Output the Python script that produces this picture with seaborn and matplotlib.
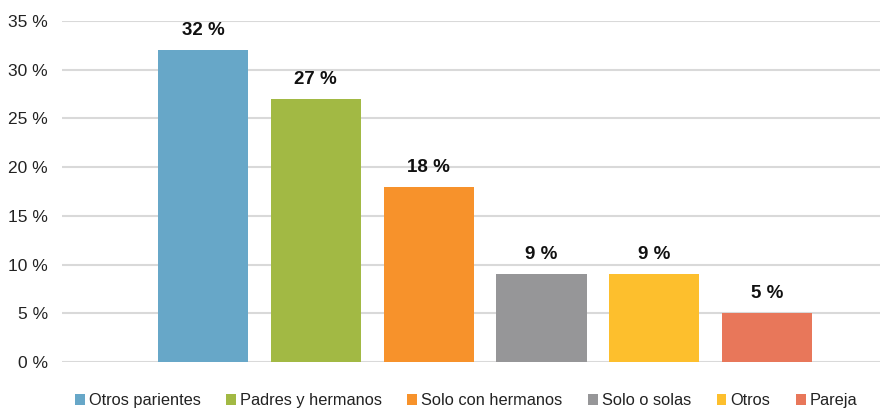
import matplotlib
matplotlib.use("Agg")
import matplotlib.pyplot as plt
import seaborn as sns
import pandas as pd

# Data
categories = ["Otros parientes", "Padres y hermanos", "Solo con hermanos",
              "Solo o solas", "Otros", "Pareja"]
values = [32, 27, 18, 9, 9, 5]
colors = ["#67A7C8", "#A2B944", "#F7922B", "#969698", "#FDBF2D", "#E8775A"]
y_ticks = [0, 5, 10, 15, 20, 25, 30, 35]

df = pd.DataFrame({"grupo": categories, "pct": values})

sns.set_style("white")
plt.rcParams["font.family"] = ["Liberation Sans", "DejaVu Sans"]

fig = plt.figure(figsize=(8.81, 4.08), dpi=100)
ax = fig.add_axes([62 / 881, 46 / 408, 818 / 881, 341 / 408])

sns.barplot(data=df, x="grupo", y="pct", hue="grupo", palette=colors,
            dodge=False, width=0.8, saturation=1, legend=True, ax=ax,
            linewidth=0, zorder=3)

ax.set_xlim(-1.25, 6.0)
ax.set_ylim(0, 35)
ax.set_yticks(y_ticks)
ax.set_yticklabels([f"{t} %" for t in y_ticks], fontsize=12.5, color="#222222")
ax.set_xticks([])
ax.set_xlabel("")
ax.set_ylabel("")
ax.tick_params(axis="y", length=0, pad=10)
ax.grid(axis="y", color="#D9D9D9", lw=1.5, zorder=0)
for s in ax.spines.values():
    s.set_visible(False)

for cont in ax.containers:
    ax.bar_label(cont, fmt="%d %%", padding=8, fontsize=13.5,
                 fontweight="bold", color="#111111")

sns.move_legend(ax, "upper center", bbox_to_anchor=(0.494, -0.072), ncol=6,
                frameon=False, title=None, handlelength=0.6, handleheight=0.6,
                handletextpad=0.25, columnspacing=1.55, borderaxespad=0,
                prop={"family": ["Liberation Sans", "DejaVu Sans"], "size": 11.8})
for t in ax.get_legend().get_texts():
    t.set_color("#222222")

fig.savefig("out.png", dpi=100)
